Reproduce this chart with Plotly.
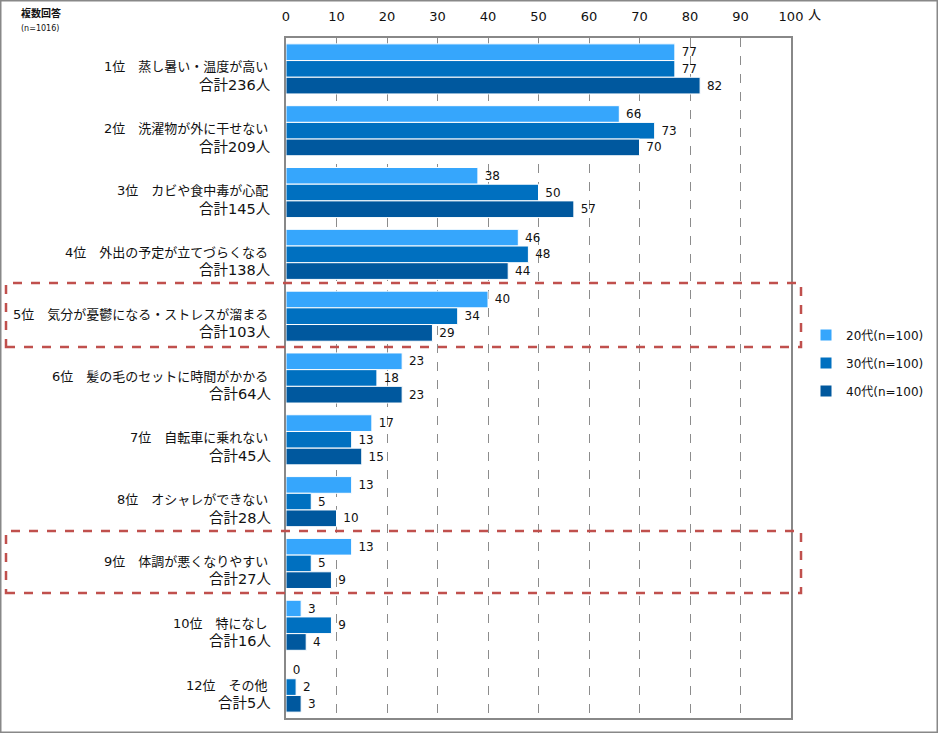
import plotly.graph_objects as go

categories = [
    "1位　蒸し暑い・温度が高い",
    "2位　洗濯物が外に干せない",
    "3位　カビや食中毒が心配",
    "4位　外出の予定が立てづらくなる",
    "5位　気分が憂鬱になる・ストレスが溜まる",
    "6位　髪の毛のセットに時間がかかる",
    "7位　自転車に乗れない",
    "8位　オシャレができない",
    "9位　体調が悪くなりやすい",
    "10位　特になし",
    "12位　その他",
]
totals = ["合計236人", "合計209人", "合計145人", "合計138人", "合計103人", "合計64人",
          "合計45人", "合計28人", "合計27人", "合計16人", "合計5人"]
age20 = [77, 66, 38, 46, 40, 23, 17, 13, 13, 3, 0]
age30 = [77, 73, 50, 48, 34, 18, 13, 5, 5, 9, 2]
age40 = [82, 70, 57, 44, 29, 23, 15, 10, 9, 4, 3]
series_names = ["20代(n=100)", "30代(n=100)", "40代(n=100)"]
colors = ["#36A6FC", "#0070C0", "#00589E"]
tick_vals = [0, 10, 20, 30, 40, 50, 60, 70, 80, 90, 100]

FONT = "DejaVu Sans, Noto Sans CJK JP"

fig = go.Figure()
for i, (name, vals) in enumerate(zip(series_names, [age20, age30, age40])):
    fig.add_trace(go.Bar(
        y=categories, x=vals, orientation="h", name=name,
        marker=dict(color=colors[i], line=dict(color="white", width=1)),
        text=vals, texttemplate="\u00a0%{x}", textposition="outside",
        constraintext="none",
        textfont=dict(size=12, color="#111111", family=FONT),
        cliponaxis=False, legendgroup=name,
    ))

L, R, T, B = 286, 147, 38, 15
PW, PH = 938 - L - R, 733 - T - B

def px_x(p):
    return (p - L) / PW

def px_y(p):
    return (733 - B - p) / PH

annotations = []
for c, t in zip(categories, totals):
    annotations.append(dict(x=0, xref="paper", y=c, yref="y", text=c, showarrow=False,
                            xanchor="right", xshift=-16, yshift=2,
                            font=dict(size=13, color="#111111", family=FONT)))
    annotations.append(dict(x=0, xref="paper", y=c, yref="y", text=t, showarrow=False,
                            xanchor="right", xshift=-13, yshift=-16,
                            font=dict(size=14.5, color="#111111", family=FONT)))
annotations.append(dict(x=px_x(806), xref="paper", y=px_y(15), yref="paper", text="人",
                        showarrow=False, xanchor="left", yanchor="middle",
                        font=dict(size=13, color="#111111", family=FONT)))
annotations.append(dict(x=px_x(19), xref="paper", y=px_y(13), yref="paper", text="<b>複数回答</b>",
                        showarrow=False, xanchor="left", yanchor="middle",
                        font=dict(size=10, color="#111111", family=FONT)))
annotations.append(dict(x=px_x(19), xref="paper", y=px_y(28), yref="paper", text="(n=1016)",
                        showarrow=False, xanchor="left", yanchor="middle",
                        font=dict(size=8, color="#111111", family=FONT)))

shapes = [
    dict(type="rect", xref="paper", yref="paper", x0=px_x(0.75), x1=px_x(937.25), y0=px_y(0.75), y1=px_y(732.25),
         line=dict(color="#888888", width=1.5), layer="above"),
]
box_px = [(283, 347), (531, 593)]
for (top, bot) in box_px:
    shapes.append(dict(type="rect", xref="paper", yref="paper", x0=px_x(6), x1=px_x(801),
                       y0=px_y(bot), y1=px_y(top),
                       line=dict(color="#C0504D", width=2.5, dash="dash"), layer="above"))

fig.update_layout(
    width=938, height=733,
    margin=dict(l=L, r=R, t=T, b=B, autoexpand=False),
    paper_bgcolor="white", plot_bgcolor="white",
    barmode="group", bargap=0.19, bargroupgap=0,
    font=dict(family=FONT, size=13, color="#111111"),
    xaxis=dict(range=[0, 100], side="top", tickvals=tick_vals, ticktext=[str(v) for v in tick_vals],
               showgrid=True, gridcolor="#8c8c8c", griddash="dash", gridwidth=1,
               showline=True, linecolor="#888888", linewidth=1.5, mirror=True,
               ticks="", ticklabelstandoff=10, tickfont=dict(size=13, family=FONT),
               zeroline=False, fixedrange=True, automargin=False),
    yaxis=dict(autorange="reversed", showticklabels=False, ticks="",
               showline=True, linecolor="#888888", linewidth=1.5, mirror=True,
               showgrid=False, zeroline=False, fixedrange=True, automargin=False),
    legend=dict(x=px_x(806), y=px_y(363), xanchor="left", yanchor="middle",
                font=dict(size=12, family=FONT), tracegroupgap=9,
                itemwidth=30, bgcolor="rgba(0,0,0,0)"),
    annotations=annotations, shapes=shapes,
    showlegend=True,
)

fig.write_html("out.html", config={"displayModeBar": False},
               post_script="document.body.style.margin='0';document.body.style.padding='0';")
